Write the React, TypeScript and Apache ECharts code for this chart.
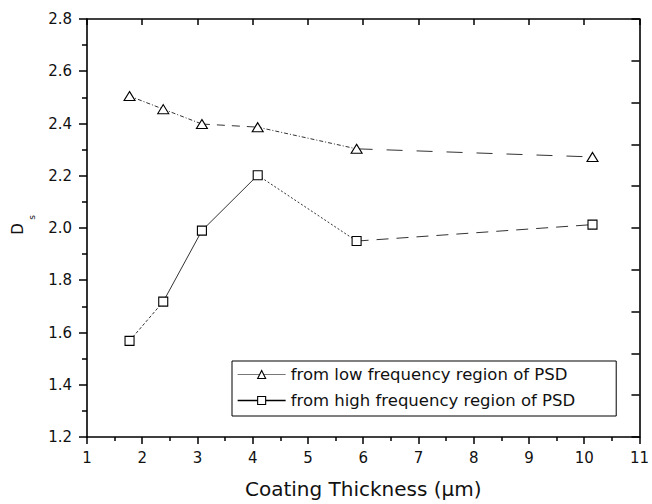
import React, { useEffect, useRef } from 'react';
import * as echarts from 'echarts';

// ---- data ----
const thickness = [1.77, 2.38, 3.08, 4.09, 5.88, 10.15];
const lowFreqDs = [2.505, 2.455, 2.398, 2.386, 2.303, 2.272];
const highFreqDs = [1.568, 1.718, 1.99, 2.202, 1.95, 2.013];
const seriesNames = ['from low frequency region of PSD', 'from high frequency region of PSD'];
const xAxisRange = [1, 11];
const yAxisRange = [1.2, 2.8];
const xTitle = 'Coating Thickness (μm)';

// ---- styles (per-segment dash patterns, as in the scanned figure) ----
const lowSegDash: (number[] | 'solid')[] = [[4, 2, 1, 2], [4, 2, 1, 2], [8, 7], [4, 2, 1, 2], [16, 14]];
const highSegDash: (number[] | 'solid')[] = [[3, 2], 'solid', 'solid', [2, 2], [12, 8]];

const FONT = 'DejaVu Sans';
const INK = '#111';

function pairs(xs: number[], ys: number[]) {
  return xs.map((x, i) => [x, ys[i]]);
}

export default function App() {
  const ref = useRef<HTMLDivElement>(null);
  useEffect(() => {
    if (!ref.current) return;
    const chart = echarts.init(ref.current, undefined, { renderer: 'svg' });
    const axisLine = { show: true, onZero: false, lineStyle: { color: '#000', width: 1.6 } };
    const segs = (vals: number[], dashes: (number[] | 'solid')[], key: string) =>
      dashes.map((d, i) => ({
        type: 'line',
        name: key + i,
        data: pairs(thickness.slice(i, i + 2), vals.slice(i, i + 2)),
        symbol: 'none',
        silent: true,
        z: 2,
        lineStyle: { color: '#333', width: 1, type: d },
      }));
    const lowPts = pairs(thickness, lowFreqDs);
    const highPts = pairs(thickness, highFreqDs);
    const hollow = { color: '#fff', borderColor: '#000', borderWidth: 1.1 };
    chart.setOption({
      animation: false,
      grid: { left: 87, right: 8, top: 19, bottom: 63, containLabel: false },
      xAxis: [
        {
          type: 'value',
          min: xAxisRange[0],
          max: xAxisRange[1],
          interval: 1,
          position: 'bottom',
          axisLine,
          axisTick: { show: true, inside: false, length: 7, lineStyle: { color: '#000', width: 1.5 } },
          minorTick: { show: true, splitNumber: 2, length: 4, lineStyle: { color: '#000', width: 1.5 } },
          splitLine: { show: false },
          axisLabel: { margin: 13, fontSize: 15, fontFamily: FONT, color: INK },
          name: xTitle,
          nameLocation: 'middle',
          nameGap: 42,
          nameTextStyle: { fontSize: 20, fontFamily: FONT, color: INK },
        },
        {
          type: 'value',
          min: xAxisRange[0],
          max: xAxisRange[1],
          interval: 1,
          position: 'top',
          axisLine,
          axisTick: { show: true, inside: true, length: 6, lineStyle: { color: '#000', width: 1.5 } },
          axisLabel: { show: false },
          splitLine: { show: false },
        },
      ],
      yAxis: [
        {
          type: 'value',
          min: yAxisRange[0],
          max: yAxisRange[1],
          interval: 0.2,
          position: 'left',
          axisLine,
          axisTick: { show: true, inside: false, length: 8, lineStyle: { color: '#000', width: 1.5 } },
          minorTick: { show: true, splitNumber: 2, length: 5, lineStyle: { color: '#000', width: 1.5 } },
          splitLine: { show: false },
          axisLabel: {
            margin: 15,
            fontSize: 15,
            fontFamily: FONT,
            color: INK,
            formatter: (v: number) => v.toFixed(1),
          },
        },
        {
          type: 'value',
          min: 0,
          max: 10,
          interval: 1,
          position: 'right',
          axisLine,
          axisTick: { show: true, inside: true, length: 8, lineStyle: { color: '#000', width: 1.5 } },
          axisLabel: { show: false },
          splitLine: { show: false },
        },
      ],
      legend: {
        orient: 'vertical',
        left: 232,
        top: 361,
        data: [
          {
            name: seriesNames[0],
            itemStyle: hollow,
            lineStyle: { color: '#777', width: 1, opacity: 1, type: 'solid' },
          },
          {
            name: seriesNames[1],
            itemStyle: hollow,
            lineStyle: { color: '#000', width: 1.3, opacity: 1, type: 'solid' },
          },
        ],
        itemWidth: 48,
        itemHeight: 10,
        itemGap: 9,
        padding: [5, 41, 7, 5],
        borderColor: '#000',
        borderWidth: 1,
        borderRadius: 0,
        textStyle: { fontSize: 16.5, fontFamily: FONT, color: INK },
      },
      graphic: [
        {
          type: 'text',
          x: 18,
          y: 229,
          rotation: Math.PI / 2,
          style: { text: 'D', font: `15px "${FONT}"`, fill: INK, align: 'center', verticalAlign: 'middle' },
        },
        {
          type: 'text',
          x: 32,
          y: 217.5,
          rotation: Math.PI / 2,
          style: { text: 's', font: `9px "${FONT}"`, fill: INK, align: 'center', verticalAlign: 'middle' },
        },
      ],
      series: [
        ...segs(lowFreqDs, lowSegDash, 'lowseg'),
        ...segs(highFreqDs, highSegDash, 'highseg'),
        {
          type: 'line',
          name: seriesNames[0],
          data: lowPts,
          symbol: 'triangle',
          symbolSize: [11, 9],
          z: 5,
          itemStyle: hollow,
          lineStyle: { opacity: 0 },
        },
        {
          type: 'line',
          name: seriesNames[1],
          data: highPts,
          symbol: 'rect',
          symbolSize: 9,
          z: 5,
          itemStyle: hollow,
          lineStyle: { opacity: 0 },
        },
      ],
    });
    return () => chart.dispose();
  }, []);
  return <div ref={ref} style={{ position: 'fixed', left: 0, top: 0, width: 652, height: 504, background: '#fff' }} />;
}
